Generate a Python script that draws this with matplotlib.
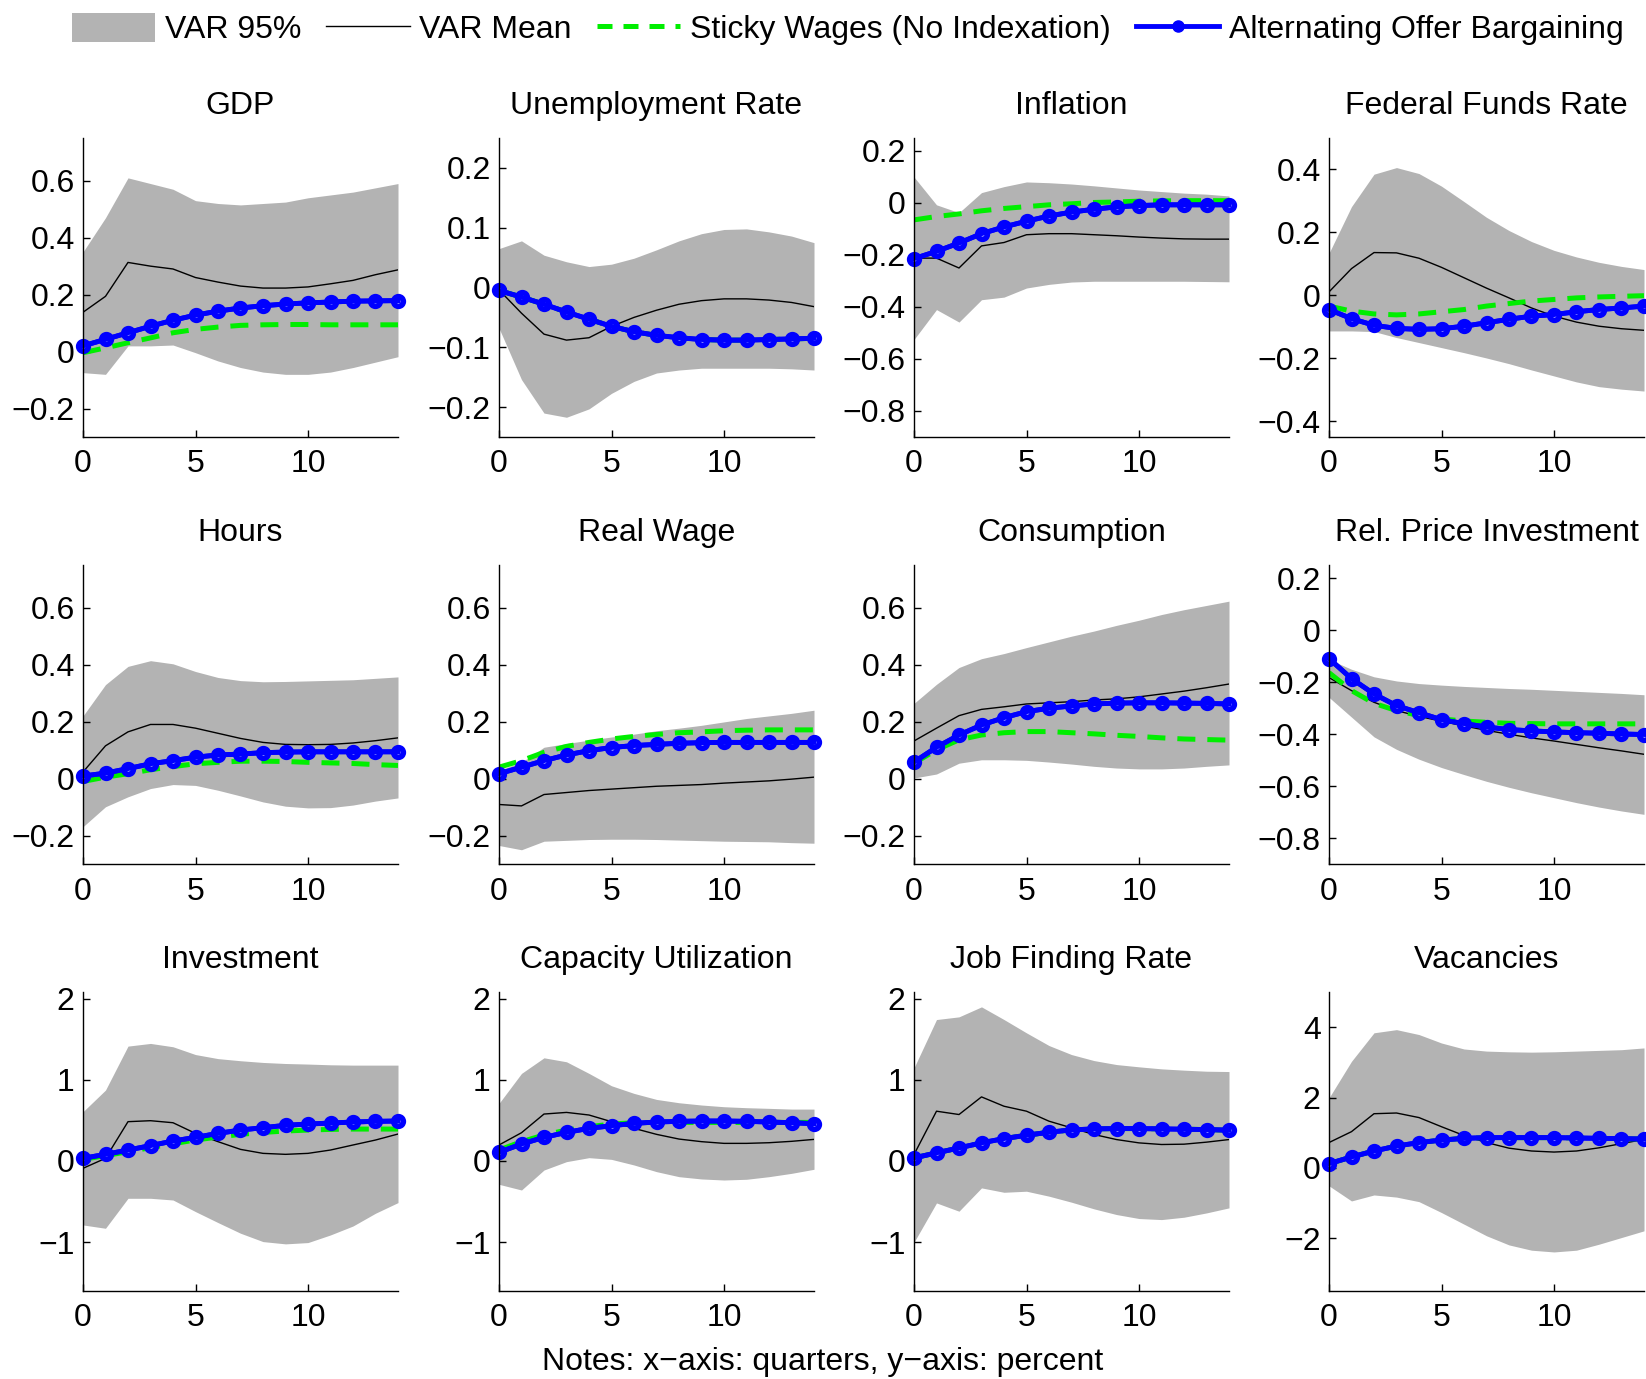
import numpy as np
import matplotlib
matplotlib.use('Agg')
import matplotlib.pyplot as plt
from matplotlib.lines import Line2D
from matplotlib.patches import Patch
from matplotlib.ticker import FuncFormatter

plt.rcParams['font.family'] = ['Liberation Sans', 'DejaVu Sans']
plt.rcParams['font.size'] = 23

quarters = np.arange(15)

# GDP
gdp_hi = [0.35, 0.47, 0.61, 0.59, 0.57, 0.53, 0.52, 0.515, 0.52, 0.525, 0.54, 0.55, 0.56, 0.575, 0.59]
gdp_lo = [-0.074, -0.08, 0.02, 0.02, 0.023, -0.004, -0.033, -0.056, -0.072, -0.08, -0.08, -0.072, -0.056, -0.037, -0.018]
gdp_var = [0.138, 0.194, 0.313, 0.30, 0.29, 0.26, 0.244, 0.23, 0.223, 0.223, 0.227, 0.238, 0.25, 0.27, 0.287]
gdp_sw = [-0.004, 0.013, 0.031, 0.048, 0.066, 0.078, 0.086, 0.092, 0.094, 0.095, 0.095, 0.094, 0.094, 0.094, 0.094]
gdp_aob = [0.02, 0.043, 0.066, 0.089, 0.11, 0.128, 0.142, 0.153, 0.161, 0.167, 0.171, 0.174, 0.177, 0.178, 0.179]

# Unemployment rate
ur_hi = [0.065, 0.078, 0.054, 0.043, 0.035, 0.039, 0.049, 0.063, 0.078, 0.09, 0.097, 0.098, 0.093, 0.086, 0.075]
ur_lo = [-0.068, -0.154, -0.21, -0.217, -0.203, -0.177, -0.157, -0.143, -0.138, -0.135, -0.135, -0.135, -0.135, -0.136, -0.138]
ur_var = [-0.004, -0.043, -0.078, -0.088, -0.084, -0.065, -0.05, -0.038, -0.028, -0.022, -0.019, -0.019, -0.021, -0.025, -0.032]
ur_sw = [-0.005, -0.016, -0.028, -0.041, -0.053, -0.065, -0.074, -0.08, -0.084, -0.087, -0.088, -0.088, -0.087, -0.086, -0.085]
ur_aob = [-0.005, -0.016, -0.028, -0.041, -0.053, -0.065, -0.074, -0.08, -0.084, -0.087, -0.088, -0.088, -0.087, -0.086, -0.085]

# Inflation
inf_hi = [0.10, -0.007, -0.037, 0.04, 0.063, 0.081, 0.078, 0.073, 0.066, 0.058, 0.05, 0.044, 0.038, 0.034, 0.027]
inf_lo = [-0.525, -0.41, -0.458, -0.372, -0.362, -0.327, -0.313, -0.304, -0.301, -0.301, -0.301, -0.301, -0.301, -0.302, -0.303]
inf_var = [-0.212, -0.212, -0.25, -0.165, -0.152, -0.122, -0.118, -0.118, -0.122, -0.126, -0.131, -0.135, -0.138, -0.139, -0.139]
inf_sw = [-0.065, -0.052, -0.042, -0.03, -0.021, -0.014, -0.007, -0.003, 0.002, 0.004, 0.007, 0.008, 0.009, 0.009, 0.009]
inf_aob = [-0.214, -0.186, -0.154, -0.118, -0.092, -0.07, -0.05, -0.035, -0.024, -0.015, -0.01, -0.007, -0.007, -0.007, -0.007]

# Federal funds rate
ffr_hi = [0.134, 0.282, 0.385, 0.406, 0.387, 0.347, 0.298, 0.248, 0.206, 0.171, 0.143, 0.122, 0.105, 0.092, 0.082]
ffr_lo = [-0.113, -0.113, -0.115, -0.134, -0.15, -0.166, -0.182, -0.199, -0.217, -0.237, -0.256, -0.275, -0.29, -0.298, -0.304]
ffr_var = [0.011, 0.085, 0.136, 0.135, 0.118, 0.089, 0.056, 0.023, -0.008, -0.04, -0.066, -0.085, -0.098, -0.106, -0.111]
ffr_sw = [-0.034, -0.05, -0.059, -0.062, -0.059, -0.052, -0.045, -0.034, -0.026, -0.018, -0.013, -0.008, -0.005, -0.003, -0.001]
ffr_aob = [-0.045, -0.074, -0.095, -0.105, -0.108, -0.106, -0.098, -0.087, -0.076, -0.066, -0.061, -0.052, -0.045, -0.04, -0.034]

# Hours
hrs_hi = [0.22, 0.33, 0.394, 0.414, 0.403, 0.376, 0.355, 0.344, 0.34, 0.341, 0.343, 0.345, 0.347, 0.352, 0.357]
hrs_lo = [-0.169, -0.099, -0.064, -0.035, -0.021, -0.024, -0.041, -0.061, -0.082, -0.097, -0.103, -0.102, -0.093, -0.079, -0.068]
hrs_var = [0.023, 0.115, 0.164, 0.19, 0.19, 0.177, 0.159, 0.141, 0.127, 0.12, 0.119, 0.12, 0.125, 0.133, 0.143]
hrs_sw = [-0.01, 0.005, 0.017, 0.031, 0.042, 0.052, 0.057, 0.061, 0.061, 0.06, 0.057, 0.055, 0.053, 0.049, 0.046]
hrs_aob = [0.009, 0.019, 0.035, 0.052, 0.063, 0.075, 0.083, 0.086, 0.091, 0.093, 0.094, 0.094, 0.094, 0.094, 0.094]

# Real wage
rw_hi = [0.03, 0.057, 0.11, 0.123, 0.135, 0.146, 0.156, 0.168, 0.177, 0.187, 0.199, 0.211, 0.22, 0.229, 0.24]
rw_lo = [-0.235, -0.25, -0.22, -0.217, -0.214, -0.213, -0.213, -0.214, -0.216, -0.218, -0.22, -0.221, -0.222, -0.225, -0.227]
rw_var = [-0.091, -0.096, -0.056, -0.049, -0.042, -0.037, -0.032, -0.027, -0.024, -0.021, -0.016, -0.012, -0.008, -0.002, 0.005]
rw_sw = [0.04, 0.063, 0.092, 0.113, 0.127, 0.139, 0.148, 0.155, 0.161, 0.164, 0.168, 0.17, 0.171, 0.171, 0.171]
rw_aob = [0.017, 0.04, 0.063, 0.083, 0.098, 0.109, 0.116, 0.12, 0.124, 0.126, 0.127, 0.127, 0.127, 0.127, 0.127]

# Consumption
con_hi = [0.264, 0.331, 0.39, 0.421, 0.439, 0.46, 0.48, 0.5, 0.518, 0.538, 0.556, 0.576, 0.593, 0.608, 0.623]
con_lo = [0.002, 0.016, 0.054, 0.066, 0.066, 0.064, 0.058, 0.051, 0.043, 0.037, 0.034, 0.034, 0.037, 0.043, 0.048]
con_var = [0.132, 0.177, 0.221, 0.243, 0.252, 0.262, 0.266, 0.27, 0.276, 0.28, 0.287, 0.297, 0.307, 0.319, 0.332]
con_sw = [0.054, 0.101, 0.136, 0.153, 0.161, 0.165, 0.165, 0.161, 0.157, 0.152, 0.148, 0.143, 0.139, 0.137, 0.135]
con_aob = [0.058, 0.11, 0.153, 0.188, 0.214, 0.235, 0.247, 0.255, 0.262, 0.265, 0.266, 0.266, 0.265, 0.264, 0.262]

# Relative price of investment
rpi_hi = [-0.113, -0.151, -0.18, -0.196, -0.206, -0.212, -0.217, -0.221, -0.225, -0.228, -0.232, -0.236, -0.24, -0.244, -0.249]
rpi_lo = [-0.259, -0.335, -0.411, -0.459, -0.497, -0.529, -0.556, -0.582, -0.605, -0.626, -0.645, -0.664, -0.681, -0.696, -0.709]
rpi_var = [-0.183, -0.233, -0.278, -0.31, -0.332, -0.351, -0.369, -0.386, -0.401, -0.415, -0.427, -0.44, -0.453, -0.465, -0.478]
rpi_sw = [-0.164, -0.233, -0.282, -0.31, -0.329, -0.342, -0.35, -0.355, -0.359, -0.36, -0.361, -0.361, -0.361, -0.361, -0.361]
rpi_aob = [-0.11, -0.187, -0.246, -0.291, -0.318, -0.345, -0.36, -0.373, -0.383, -0.388, -0.392, -0.395, -0.397, -0.4, -0.402]

# Investment
inv_hi = [0.607, 0.873, 1.414, 1.447, 1.406, 1.31, 1.26, 1.234, 1.213, 1.2, 1.193, 1.184, 1.18, 1.18, 1.18]
inv_lo = [-0.787, -0.828, -0.459, -0.459, -0.48, -0.623, -0.758, -0.889, -0.992, -1.02, -1.004, -0.91, -0.8, -0.643, -0.512]
inv_var = [-0.09, 0.033, 0.484, 0.496, 0.471, 0.34, 0.238, 0.143, 0.094, 0.082, 0.094, 0.135, 0.197, 0.258, 0.332]
inv_sw = [0.02, 0.066, 0.115, 0.164, 0.213, 0.258, 0.295, 0.328, 0.352, 0.369, 0.381, 0.389, 0.393, 0.393, 0.393]
inv_aob = [0.033, 0.082, 0.135, 0.189, 0.246, 0.291, 0.34, 0.381, 0.41, 0.439, 0.455, 0.467, 0.48, 0.488, 0.492]

# Capacity utilization
cu_hi = [0.709, 1.078, 1.27, 1.221, 1.078, 0.926, 0.832, 0.758, 0.717, 0.689, 0.668, 0.656, 0.648, 0.639, 0.639]
cu_lo = [-0.287, -0.357, -0.111, -0.008, 0.041, 0.02, -0.049, -0.131, -0.193, -0.221, -0.234, -0.225, -0.193, -0.152, -0.102]
cu_var = [0.197, 0.348, 0.578, 0.598, 0.566, 0.484, 0.402, 0.328, 0.27, 0.238, 0.217, 0.217, 0.225, 0.242, 0.266]
cu_sw = [0.135, 0.238, 0.32, 0.381, 0.422, 0.455, 0.471, 0.475, 0.475, 0.475, 0.475, 0.475, 0.475, 0.475, 0.475]
cu_aob = [0.107, 0.209, 0.291, 0.352, 0.402, 0.434, 0.463, 0.48, 0.488, 0.492, 0.492, 0.488, 0.48, 0.471, 0.459]

# Job finding rate
jf_hi = [1.146, 1.741, 1.774, 1.897, 1.741, 1.577, 1.421, 1.31, 1.236, 1.187, 1.159, 1.134, 1.118, 1.105, 1.101]
jf_lo = [-1.0, -0.516, -0.618, -0.331, -0.385, -0.372, -0.433, -0.507, -0.589, -0.659, -0.708, -0.721, -0.692, -0.639, -0.577]
jf_var = [0.079, 0.613, 0.572, 0.789, 0.674, 0.613, 0.49, 0.408, 0.326, 0.264, 0.223, 0.203, 0.207, 0.232, 0.264]
jf_sw = [0.038, 0.1, 0.161, 0.223, 0.276, 0.317, 0.354, 0.383, 0.395, 0.399, 0.399, 0.395, 0.391, 0.387, 0.379]
jf_aob = [0.038, 0.1, 0.161, 0.223, 0.276, 0.317, 0.354, 0.383, 0.395, 0.399, 0.399, 0.395, 0.391, 0.387, 0.379]

# Vacancies
vac_hi = [1.99, 3.03, 3.84, 3.93, 3.79, 3.55, 3.38, 3.32, 3.30, 3.29, 3.30, 3.32, 3.34, 3.36, 3.41]
vac_lo = [-0.51, -0.94, -0.77, -0.83, -0.96, -1.27, -1.60, -1.93, -2.19, -2.34, -2.39, -2.34, -2.17, -1.98, -1.79]
vac_var = [0.72, 1.03, 1.54, 1.56, 1.43, 1.17, 0.92, 0.72, 0.56, 0.48, 0.45, 0.48, 0.57, 0.69, 0.81]
vac_sw = [0.12, 0.31, 0.48, 0.62, 0.72, 0.79, 0.84, 0.86, 0.86, 0.86, 0.86, 0.85, 0.84, 0.83, 0.82]
vac_aob = [0.12, 0.31, 0.48, 0.62, 0.72, 0.79, 0.84, 0.86, 0.86, 0.86, 0.86, 0.85, 0.84, 0.83, 0.82]

titles = ['GDP', 'Unemployment Rate', 'Inflation', 'Federal Funds Rate',
          'Hours', 'Real Wage', 'Consumption', 'Rel. Price Investment',
          'Investment', 'Capacity Utilization', 'Job Finding Rate', 'Vacancies']
ylims = [(-0.3, 0.75), (-0.25, 0.25), (-0.9, 0.25), (-0.45, 0.5),
         (-0.3, 0.75), (-0.3, 0.75), (-0.3, 0.75), (-0.9, 0.25),
         (-1.6, 2.08), (-1.6, 2.08), (-1.6, 2.08), (-3.5, 5.0)]
yticks = [[-0.2, 0, 0.2, 0.4, 0.6], [-0.2, -0.1, 0, 0.1, 0.2],
          [-0.8, -0.6, -0.4, -0.2, 0, 0.2], [-0.4, -0.2, 0, 0.2, 0.4],
          [-0.2, 0, 0.2, 0.4, 0.6], [-0.2, 0, 0.2, 0.4, 0.6],
          [-0.2, 0, 0.2, 0.4, 0.6], [-0.8, -0.6, -0.4, -0.2, 0, 0.2],
          [-1, 0, 1, 2], [-1, 0, 1, 2], [-1, 0, 1, 2], [-2, 0, 2, 4]]

panels = [
    (gdp_hi, gdp_lo, gdp_var, gdp_sw, gdp_aob),
    (ur_hi, ur_lo, ur_var, ur_sw, ur_aob),
    (inf_hi, inf_lo, inf_var, inf_sw, inf_aob),
    (ffr_hi, ffr_lo, ffr_var, ffr_sw, ffr_aob),
    (hrs_hi, hrs_lo, hrs_var, hrs_sw, hrs_aob),
    (rw_hi, rw_lo, rw_var, rw_sw, rw_aob),
    (con_hi, con_lo, con_var, con_sw, con_aob),
    (rpi_hi, rpi_lo, rpi_var, rpi_sw, rpi_aob),
    (inv_hi, inv_lo, inv_var, inv_sw, inv_aob),
    (cu_hi, cu_lo, cu_var, cu_sw, cu_aob),
    (jf_hi, jf_lo, jf_var, jf_sw, jf_aob),
    (vac_hi, vac_lo, vac_var, vac_sw, vac_aob),
]

band_col = '#b3b3b3'
green = '#00ee00'
blue = '#0000ff'

W, H = 1646, 1379
fig = plt.figure(figsize=(W / 100, H / 100), dpi=100)

col_left = [83, 499, 914, 1329]
row_top = [138, 565, 992]
ax_w, ax_h = 315, 299

fmt = FuncFormatter(lambda v, p: ('%g' % v).replace('-', '\u2212'))

for i, (hi, lo, var, sw, aob) in enumerate(panels):
    r, c = divmod(i, 4)
    ax = fig.add_axes([col_left[c] / W, 1 - (row_top[r] + ax_h) / H, ax_w / W, ax_h / H])
    ax.fill_between(quarters, lo, hi, color=band_col, lw=0, zorder=1)
    ax.plot(quarters, var, color='k', lw=1.0, zorder=2)
    ax.plot(quarters, sw, color=green, lw=3.6, dashes=(3.6, 2.4), zorder=3)
    # ring markers, then the line again on top so inner markers read solid
    ax.plot(quarters, aob, color=blue, lw=3.5, marker='o', ms=7, mew=4,
            mfc='white', mec=blue, zorder=4, clip_on=False)
    ax.plot(quarters, aob, color=blue, lw=3.5, zorder=5, clip_on=False)
    ax.set_xlim(0, 14)
    ax.set_ylim(*ylims[i])
    ax.set_xticks([0, 5, 10])
    ax.set_yticks(yticks[i])
    ax.yaxis.set_major_formatter(fmt)
    for s in ['top', 'right']:
        ax.spines[s].set_visible(False)
    for s in ['left', 'bottom']:
        ax.spines[s].set_linewidth(1.0)
        ax.spines[s].set_zorder(6)
    ax.tick_params(axis='both', direction='in', length=5, width=1.0, labelsize=23)
    ax.tick_params(axis='x', pad=9)
    ax.tick_params(axis='y', pad=6)
    ax.set_title(titles[i], pad=17, fontsize=23)

handles = [
    Patch(facecolor=band_col, edgecolor='none'),
    Line2D([], [], color='k', lw=1.0),
    Line2D([], [], color=green, lw=3.6, dashes=(3.0, 2.2)),
    Line2D([], [], color=blue, lw=3.5, marker='o', ms=8, mfc=blue, mec=blue),
]
labels = ['VAR 95%', 'VAR Mean', 'Sticky Wages (No Indexation)', 'Alternating Offer Bargaining']
fig.legend(handles, labels, loc='center', bbox_to_anchor=(0.515, 1 - 29 / H), ncol=4,
           frameon=False, handlelength=2.6, handleheight=1.05, columnspacing=0.8,
           handletextpad=0.3, fontsize=23)

fig.text(0.5, 1 - 1362 / H, 'Notes: x\u2212axis: quarters, y\u2212axis: percent',
         ha='center', va='center', fontsize=23)

fig.savefig('out.png', dpi=100)
